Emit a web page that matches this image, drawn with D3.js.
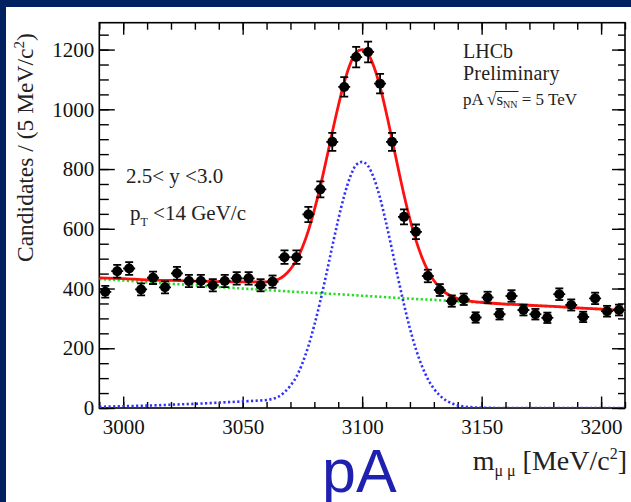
<!DOCTYPE html>
<html><head><meta charset="utf-8">
<script src="https://cdn.jsdelivr.net/npm/d3@7"></script>
<style>html,body{margin:0;padding:0;background:#002060;overflow:hidden}svg{display:block}</style>
</head><body>
<svg id="c" width="631" height="502"></svg>
<script>
// ---- data ----
const binCenters = [2992.5,2997.5,3002.5,3007.5,3012.5,3017.5,3022.5,3027.5,3032.5,3037.5,3042.5,3047.5,3052.5,3057.5,3062.5,3067.5,3072.5,3077.5,3082.5,3087.5,3092.5,3097.5,3102.5,3107.5,3112.5,3117.5,3122.5,3127.5,3132.5,3137.5,3142.5,3147.5,3152.5,3157.5,3162.5,3167.5,3172.5,3177.5,3182.5,3187.5,3192.5,3197.5,3202.5,3207.5];
const counts = [389,458,467,397,436,404,451,425,425,411,425,434,434,411,423,505,505,648,732,891,1075,1175,1192,1086,891,640,590,442,395,358,364,303,370,314,375,328,314,302,381,345,305,367,324,328];

const fitX = [2990,3000,3010,3020,3030,3040,3050,3055,3060,3065,3067.5,3070,3072.5,3075,3077.5,3080,3082.5,3085,3087.5,3090,3092.5,3095,3097.5,3100,3102.5,3105,3107.5,3110,3112.5,3115,3117.5,3120,3122.5,3125,3127.5,3130,3132.5,3135,3137.5,3140,3142.5,3145,3150,3160,3170,3180,3190,3200,3210];
const totalFit = [436,433,429,427,425,423,422,422,422,431,444,465,494,538,594,663,742,831,923,1011,1090,1152,1191,1200,1185,1141,1075,992,900,805,714,632,562,505,460,427,403,385,374,366,361,358,354,348,344,340,335,331,327];
const signalFit = [4,6,8,11,14,18,22,24,27,38,53,75,105,150,207,278,358,448,541,631,711,774,814,824,810,768,703,621,530,436,347,266,197,141,97,65,42,26,16,9,5,3,1,0,0,0,0,0,0];
const bkgX = [2990,3000,3010,3020,3030,3040,3050,3060,3070,3080,3090,3100,3110,3120,3130,3140,3150,3160,3170,3180,3190,3200,3210];
const bkgFit = [432,427,421,416,411,405,400,395,390,385,381,376,371,366,362,357,353,348,344,340,335,331,327];

const xMajorTicks = [3000,3050,3100,3150,3200];
const xMinorTicks = [2990,3000,3010,3020,3030,3040,3050,3060,3070,3080,3090,3100,3110,3120,3130,3140,3150,3160,3170,3180,3190,3200,3210];
const yMajorTicks = [0,200,400,600,800,1000,1200];
const yMinorTicks = [0,50,100,150,200,250,300,350,400,450,500,550,600,650,700,750,800,850,900,950,1000,1050,1100,1150,1200,1250];

// ---- layout ----
const L = 99.3, R = 625, T = 22.7, B = 408;
const svg = d3.select('#c');
svg.append('rect').attr('x',6).attr('y',7).attr('width',625).attr('height',495).attr('fill','#fff');

const x = d3.scaleLinear().domain([2990,3210]).range([L,R]);
const y = d3.scaleLinear().domain([0,1290]).range([B,T]);
const serif = '"Liberation Serif","Times New Roman",serif';

// axes
function styleAxis(g){
  g.select('.domain').remove();
  g.selectAll('line').attr('stroke','#000').attr('stroke-width',1.4);
  g.selectAll('text').attr('font-family',serif).attr('font-size',21).attr('fill','#111');
}
svg.append('g').attr('transform',`translate(0,${B})`)
  .call(d3.axisBottom(x).tickValues(xMinorTicks).tickSize(-6).tickFormat(''))
  .call(styleAxis);
svg.append('g').attr('transform',`translate(0,${B})`)
  .call(d3.axisBottom(x).tickValues(xMajorTicks).tickSize(-11.5).tickPadding(11).tickFormat(d3.format('d')))
  .call(styleAxis);
svg.append('g').attr('transform',`translate(0,${T})`)
  .call(d3.axisTop(x).tickValues(xMinorTicks).tickSize(-7).tickFormat(''))
  .call(styleAxis);
svg.append('g').attr('transform',`translate(0,${T})`)
  .call(d3.axisTop(x).tickValues(xMajorTicks).tickSize(-12).tickFormat(''))
  .call(styleAxis);
svg.append('g').attr('transform',`translate(${L},0)`)
  .call(d3.axisLeft(y).tickValues(yMinorTicks).tickSize(-9.5).tickFormat(''))
  .call(styleAxis);
svg.append('g').attr('transform',`translate(${L},0)`)
  .call(d3.axisLeft(y).tickValues(yMajorTicks).tickSize(-15.5).tickPadding(5).tickFormat(d3.format('d')))
  .call(styleAxis);
svg.append('g').attr('transform',`translate(${R},0)`)
  .call(d3.axisRight(y).tickValues(yMinorTicks).tickSize(-7).tickFormat(''))
  .call(styleAxis);
svg.append('g').attr('transform',`translate(${R},0)`)
  .call(d3.axisRight(y).tickValues(yMajorTicks).tickSize(-13).tickFormat(''))
  .call(styleAxis);

svg.append('rect').attr('x',L).attr('y',T).attr('width',R-L).attr('height',B-T)
  .attr('fill','none').attr('stroke','#000').attr('stroke-width',1.6);

// clip
svg.append('clipPath').attr('id','clip').append('rect').attr('x',L).attr('y',T).attr('width',R-L).attr('height',B-T);
const plot = svg.append('g').attr('clip-path','url(#clip)');

// fit curves
const bkgPts = bkgX.map((v,i)=>[v,bkgFit[i]]);
const sigPts = fitX.map((v,i)=>[v,signalFit[i]]);
const totPts = fitX.map((v,i)=>[v,totalFit[i]]);
const line = d3.line().x(d=>x(d[0])).y(d=>y(d[1])).curve(d3.curveMonotoneX);
plot.append('path').attr('d',line(bkgPts)).attr('fill','none').attr('stroke','#22dd22').attr('stroke-width',2.6).attr('stroke-dasharray','2.2,2.4');
plot.append('path').attr('d',line(sigPts)).attr('fill','none').attr('stroke','#3030ff').attr('stroke-width',2.6).attr('stroke-dasharray','2.2,2.4');
plot.append('path').attr('d',line(totPts)).attr('fill','none').attr('stroke','#ff1010').attr('stroke-width',2.8);

// data points
const pts = plot.append('g');
binCenters.forEach((c,i)=>{
  const n = counts[i], e = Math.sqrt(n);
  const cx = x(c), cy = y(n), y1 = y(n+e), y2 = y(n-e);
  const g = pts.append('g').attr('stroke','#000').attr('stroke-width',1.8);
  g.append('line').attr('x1',cx).attr('x2',cx).attr('y1',y1).attr('y2',y2);
  g.append('line').attr('x1',x(c-2.5)).attr('x2',x(c+2.5)).attr('y1',cy).attr('y2',cy);
  g.append('line').attr('x1',cx-4).attr('x2',cx+4).attr('y1',y1).attr('y2',y1);
  g.append('line').attr('x1',cx-4).attr('x2',cx+4).attr('y1',y2).attr('y2',y2);
  pts.append('circle').attr('cx',cx).attr('cy',cy).attr('r',5).attr('fill','#000');
});

// y title
const yt = svg.append('text').attr('transform','translate(33,262) rotate(-90)')
  .attr('font-family',serif).attr('font-size',23.5).attr('fill','#222');
yt.append('tspan').text('Candidates / (5 MeV/c');
yt.append('tspan').text('2').attr('font-size',15).attr('dy',-9);
yt.append('tspan').text(')').attr('dy',9);

// x title
const xt = svg.append('text').attr('x',627).attr('y',470).attr('text-anchor','end')
  .attr('font-family',serif).attr('font-size',28).attr('fill','#222');
xt.append('tspan').text('m');
xt.append('tspan').text('μ μ').attr('font-size',16).attr('dy',6);
xt.append('tspan').text('  [MeV/c').attr('dy',-6);
xt.append('tspan').text('2').attr('font-size',16).attr('dy',-11);
xt.append('tspan').text(']').attr('dy',11);

// annotations
const ann = svg.append('g').attr('font-family',serif).attr('fill','#222');
ann.append('text').attr('x',463).attr('y',58).attr('font-size',20).text('LHCb');
ann.append('text').attr('x',463).attr('y',80).attr('font-size',20).attr('letter-spacing',0.2).text('Preliminary');
const en = ann.append('text').attr('x',463).attr('y',105).attr('font-size',17);
en.append('tspan').text('pA ');
en.append('tspan').text('√');
en.append('tspan').text('s');
en.append('tspan').text('NN').attr('font-size',10).attr('dy',3);
en.append('tspan').text(' = 5 TeV').attr('dy',-3);
try {
  const node = en.node();
  const r = node.getExtentOfChar(3), s2 = node.getExtentOfChar(6);
  ann.append('line').attr('x1',r.x+r.width-1).attr('x2',s2.x+s2.width+1)
    .attr('y1',r.y+1.5).attr('y2',r.y+1.5).attr('stroke','#222').attr('stroke-width',1);
} catch(e) {}

ann.append('text').attr('x',126).attr('y',183).attr('font-size',21).text('2.5< y <3.0');
const pt = ann.append('text').attr('x',130).attr('y',220).attr('font-size',21);
pt.append('tspan').text('p');
pt.append('tspan').text('T').attr('font-size',12).attr('dy',6);
pt.append('tspan').text(' <14 GeV/c').attr('dy',-6);

// big label
svg.append('text').attr('x',322).attr('y',492).attr('font-family','"Liberation Sans",Arial,sans-serif')
  .attr('font-size',61).attr('fill','#1f1fb0').text('pA');
</script>
</body></html>
